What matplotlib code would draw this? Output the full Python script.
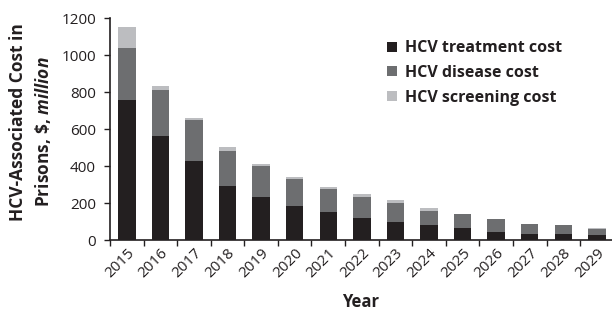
import matplotlib
matplotlib.use("Agg")
import matplotlib.pyplot as plt
import numpy as np

years = ["2015", "2016", "2017", "2018", "2019", "2020", "2021", "2022",
         "2023", "2024", "2025", "2026", "2027", "2028", "2029"]
treatment = [760, 561, 425, 294, 234, 185, 149, 120, 98, 80, 65, 46, 33, 33, 26]
disease_top = [1039, 812, 647, 480, 400, 329, 275, 234, 202, 158, 140, 113, 87, 80, 62]
screening_top = [1152, 834, 663, 501, 414, 342, 287, 247, 215, 173, 141, 114, 88, 81, 63]
disease = [d - t for d, t in zip(disease_top, treatment)]
screening = [s - d for s, d in zip(screening_top, disease_top)]
yticks = [0, 200, 400, 600, 800, 1000, 1200]

plt.rcParams['font.family'] = ['Open Sans', 'DejaVu Sans']
plt.rcParams['mathtext.fontset'] = 'custom'
plt.rcParams['mathtext.it'] = 'Open Sans:bold:italic'

c_t, c_d, c_s = '#231f20', '#6d6e70', '#bcbdc0'

fig = plt.figure(figsize=(6.12, 3.11), dpi=100)
W, H = 612, 311
ax = fig.add_axes([110 / W, (H - 240) / H, (612 - 110) / W, (240 - 18.3) / H])

x = np.arange(len(years))
w = 0.52
ax.bar(x, treatment, w, color=c_t, label='HCV treatment cost')
ax.bar(x, disease, w, bottom=treatment, color=c_d, label='HCV disease cost')
ax.bar(x, screening, w, bottom=disease_top, color=c_s, label='HCV screening cost')

ax.set_xlim(-0.5, 14.45)
ax.set_ylim(0, 1200)
ax.set_yticks(yticks)
ax.set_yticklabels([str(v) for v in yticks], fontsize=11, color='#231f20')
ax.set_xticks(np.arange(-0.5, 14.5, 1.0))
ax.set_xticklabels([])
ax.set_xticks(x, minor=True)
ax.set_xticklabels(years, minor=True, rotation=45, ha='right', rotation_mode='anchor',
                   fontsize=11, color='#231f20')
ax.tick_params(axis='x', which='minor', length=0, pad=4)
ax.tick_params(axis='x', which='major', length=4, width=1, color='#231f20')
ax.tick_params(axis='y', length=4, width=1, color='#231f20', pad=6)
for s in ['top', 'right']:
    ax.spines[s].set_visible(False)
for s in ['left', 'bottom']:
    ax.spines[s].set_color('#231f20')
    ax.spines[s].set_linewidth(1.2)

ax.set_xlabel('Year', fontsize=12, fontweight='bold', color='#231f20', labelpad=9)

fig.text(18 / W, 1 - 122 / H, 'HCV-Associated Cost in', rotation=90, ha='center', va='center',
         fontsize=12.5, fontweight='bold', color='#231f20')
fig.text(43 / W, 1 - 132 / H, r'Prisons, \$, $\mathit{million}$', rotation=90, ha='center',
         va='center', fontsize=12.5, fontweight='bold', color='#231f20')

leg = ax.legend(loc='upper left', bbox_to_anchor=(0.54, 0.93), frameon=False,
                prop={'weight': 'bold', 'size': 11.5}, handlelength=0.6, handleheight=0.6,
                handletextpad=0.5, labelspacing=0.55, borderaxespad=0)
for t in leg.get_texts():
    t.set_color('#231f20')

fig.savefig('out.png', dpi=100)
